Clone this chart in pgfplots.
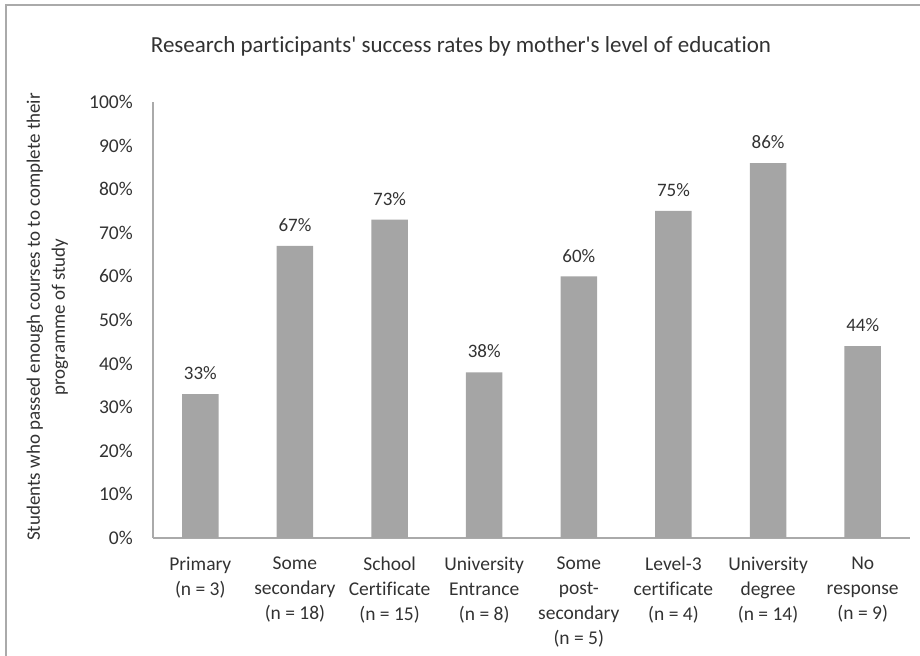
\documentclass[border=0pt]{standalone}
\usepackage{pgfplots}
\pgfplotsset{compat=1.18}
\usepackage{fontspec}
\setmainfont{Carlito}[Ligatures=NoCommon]
\definecolor{barc}{RGB}{165,165,165}
\definecolor{linec}{RGB}{170,170,170}
\definecolor{txt}{RGB}{50,50,50}
\begin{document}
\begin{tikzpicture}[x=1bp,y=1bp]
\path[use as bounding box] (0,0) rectangle (920,656);
\draw[linec, line width=1.5bp] (6,0) -- (6,651) -- (920,651);
\node[txt, font=\fontsize{23bp}{27bp}\selectfont] at (461,610) {Research participants\textquotesingle{} success rates by mother\textquotesingle{}s level of education};
\node[txt, rotate=90, align=center, font=\fontsize{19bp}{25bp}\selectfont] at (47.5,339) {Students who passed enough courses to to complete their\\programme of study};
\begin{axis}[
  at={(153bp,118bp)}, anchor=south west,
  scale only axis, width=757bp, height=436bp,
  xmin=-0.5, xmax=7.5, ymin=0, ymax=100,
  axis x line*=bottom, axis y line*=left,
  axis line style={linec, line width=1.2bp, -},
  ytick={0,10,...,100},
  yticklabel={\pgfmathprintnumber{\tick}\%},
  xtick={0,...,7},
  xticklabels={{Primary\\(n = 3)},{Some\\secondary\\(n = 18)},{School\\Certificate\\(n = 15)},{University\\Entrance\\(n = 8)},{Some\\post-\\secondary\\(n = 5)},{Level-3\\certificate\\(n = 4)},{University\\degree\\(n = 14)},{No\\response\\(n = 9)}},
  major tick length=0pt,
  /pgf/number format/assume math mode=true,
  tick label style={txt, font=\fontsize{19.5bp}{25bp}\selectfont},
  yticklabel style={inner sep=0pt, anchor=east, xshift=-20bp},
  xticklabel style={inner sep=0pt, anchor=north, align=center, yshift=-19bp},
  ybar, bar width=36.6bp,
  nodes near coords={\pgfmathprintnumber{\pgfplotspointmeta}\%},
  nodes near coords style={txt, font=\fontsize{19bp}{22bp}\selectfont, inner sep=0pt, yshift=14bp},
  clip=false,
]
\addplot[fill=barc, draw=none] coordinates {(0,33) (1,67) (2,73) (3,38) (4,60) (5,75) (6,86) (7,44)};
\end{axis}
\end{tikzpicture}
\end{document}
